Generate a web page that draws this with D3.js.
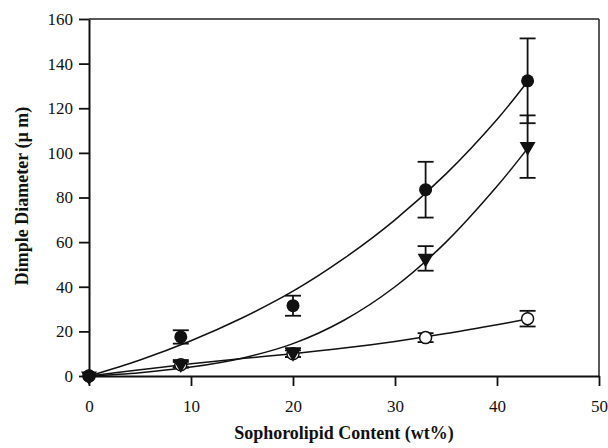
<!DOCTYPE html>
<html>
<head>
<meta charset="utf-8">
<script src="https://cdn.jsdelivr.net/npm/d3@7"></script>
<style>
  body { margin: 0; background: #fff; }
  svg { display: block; }
  text { font-family: "Liberation Serif", "Times New Roman", "DejaVu Serif", serif; fill: #111; }
</style>
</head>
<body>
<div id="chart"></div>
<script>
// measured points (x = wt%)
const xValues = [0, 9, 20, 33, 43];
const filledCircle = [0, 17.5, 31.5, 83.5, 132.3];
const filledCircleErr = [0, 3, 4.5, 12.5, 19];
const filledTriangle = [0, 5.5, 10.5, 52.7, 102.8];
const filledTriangleErr = [0, 1.5, 2, 5.5, 14];
const openCircle = [0, 5, 10, 17.2, 25.7];
const openCircleErr = [0, 1.3, 1.5, 2, 3.5];

// fitted curves
const curveX = [0, 5, 10, 15, 20, 25, 30, 35, 40, 43];
const filledCircleFit = [0, 7.2, 15.8, 26, 38, 52.7, 70, 90.6, 115, 132];
const filledTriangleFit = [0, 1.5, 4, 8, 14.5, 25, 40, 60, 85, 102];
const openCircleFit = [0, 2.8, 5.5, 7.8, 10, 12.5, 15.5, 19, 23, 25.5];

const xTicks = [0, 10, 20, 30, 40, 50];
const yTicks = [0, 20, 40, 60, 80, 100, 120, 140, 160];

const width = 608, height = 448;
const margin = {top: 19, right: 9, bottom: 72, left: 89};
const innerW = width - margin.left - margin.right;
const innerH = height - margin.top - margin.bottom;
const serif = '"Liberation Serif", "Times New Roman", "DejaVu Serif", serif';

const svg = d3.select('#chart').append('svg')
    .attr('width', width)
    .attr('height', height);

const g = svg.append('g')
    .attr('transform', `translate(${margin.left},${margin.top})`);

const x = d3.scaleLinear().domain([0, 50]).range([0, innerW]);
const y = d3.scaleLinear().domain([0, 160]).range([innerH, 0]);

// frame: top and right thinner
g.append('line').attr('x1', 0).attr('x2', innerW).attr('y1', 0).attr('y2', 0)
    .attr('stroke', '#222').attr('stroke-width', 1.5);
g.append('line').attr('x1', innerW).attr('x2', innerW).attr('y1', 0).attr('y2', innerH)
    .attr('stroke', '#222').attr('stroke-width', 1.5);

// axes
const xAxis = g.append('g')
    .attr('transform', `translate(0,${innerH})`)
    .call(d3.axisBottom(x).tickValues(xTicks).tickSize(10).tickPadding(14).tickSizeOuter(0));
const yAxis = g.append('g')
    .call(d3.axisLeft(y).tickValues(yTicks).tickSize(10).tickPadding(6).tickSizeOuter(0));

[xAxis, yAxis].forEach(a => {
    a.attr('font-family', serif).attr('font-size', 17);
    a.select('.domain').attr('stroke', '#111').attr('stroke-width', 2);
    a.selectAll('.tick line').attr('stroke', '#111').attr('stroke-width', 1.8);
    a.selectAll('.tick text').attr('fill', '#111');
});

// fitted curves
const line = d3.line()
    .x(d => x(d[0]))
    .y(d => y(d[1]))
    .curve(d3.curveCatmullRom);

[filledCircleFit, filledTriangleFit, openCircleFit].forEach(fit => {
    g.append('path')
        .datum(curveX.map((v, i) => [v, fit[i]]))
        .attr('d', line)
        .attr('fill', 'none')
        .attr('stroke', '#111')
        .attr('stroke-width', 1.5);
});

// error bars
function drawErrors(vals, errs) {
    const capW = 8;
    xValues.forEach((xv, i) => {
        if (errs[i] <= 0) return;
        const cx = x(xv), top = y(vals[i] + errs[i]), bot = y(vals[i] - errs[i]);
        g.append('line').attr('x1', cx).attr('x2', cx).attr('y1', top).attr('y2', bot)
            .attr('stroke', '#111').attr('stroke-width', 1.8);
        [top, bot].forEach(yy => {
            g.append('line').attr('x1', cx - capW).attr('x2', cx + capW).attr('y1', yy).attr('y2', yy)
                .attr('stroke', '#111').attr('stroke-width', 1.8);
        });
    });
}
drawErrors(openCircle, openCircleErr);
drawErrors(filledTriangle, filledTriangleErr);
drawErrors(filledCircle, filledCircleErr);

// markers
g.selectAll('.open-circle')
    .data(xValues.map((v, i) => [v, openCircle[i]]))
    .join('circle')
    .attr('class', 'open-circle')
    .attr('cx', d => x(d[0]))
    .attr('cy', d => y(d[1]))
    .attr('r', 6)
    .attr('fill', '#fff')
    .attr('stroke', '#111')
    .attr('stroke-width', 1.5);

const tri = d3.symbol().type(d3.symbolTriangle).size(110);
g.selectAll('.triangle')
    .data(xValues.map((v, i) => [v, filledTriangle[i]]))
    .join('path')
    .attr('class', 'triangle')
    .attr('d', tri)
    .attr('transform', d => `translate(${x(d[0])},${y(d[1])}) rotate(180)`)
    .attr('fill', '#111');

g.selectAll('.filled-circle')
    .data(xValues.map((v, i) => [v, filledCircle[i]]))
    .join('circle')
    .attr('class', 'filled-circle')
    .attr('cx', d => x(d[0]))
    .attr('cy', d => y(d[1]))
    .attr('r', 6.5)
    .attr('fill', '#111');

// axis titles
svg.append('text')
    .attr('x', margin.left + innerW / 2)
    .attr('y', 439)
    .attr('text-anchor', 'middle')
    .attr('font-family', serif)
    .attr('font-size', 18)
    .attr('font-weight', 'bold')
    .text('Sophorolipid Content (wt%)');

svg.append('text')
    .attr('transform', 'translate(28,196) rotate(-90)')
    .attr('text-anchor', 'middle')
    .attr('font-family', serif)
    .attr('font-size', 18)
    .attr('font-weight', 'bold')
    .text('Dimple Diameter (µ m)');
</script>
</body>
</html>
